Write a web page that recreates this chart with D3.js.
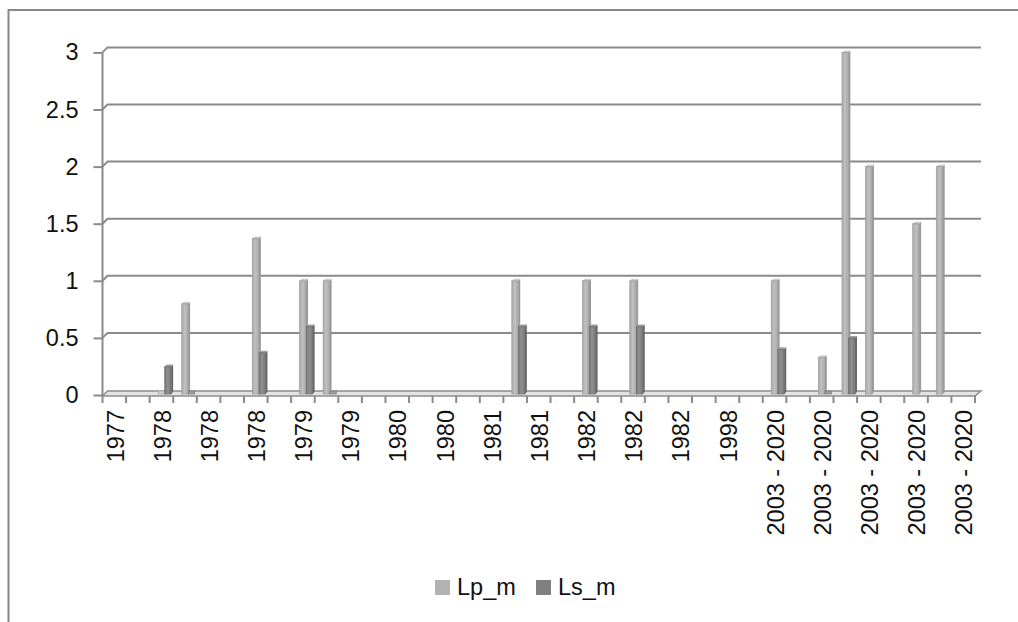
<!DOCTYPE html>
<html><head><meta charset="utf-8">
<script src="https://cdn.jsdelivr.net/npm/d3@7"></script>
<style>
body{margin:0;background:#fff}
svg{display:block}
text{font-family:"Liberation Sans",Arial,sans-serif;fill:#111}
</style></head>
<body><svg id="c" width="1018" height="622"></svg>
<script>
// ---- data ----
const categories = ["1977","1977","1978","1978","1978","1978","1978","1979","1979","1979",
  "1979","1980","1980","1980","1980","1981","1981","1981","1981","1982",
  "1982","1982","1982","1982","1982","1998","1998","2003 - 2020","2003 - 2020","2003 - 2020",
  "2003 - 2020","2003 - 2020","2003 - 2020","2003 - 2020","2003 - 2020","2003 - 2020","2003 - 2020"];
const seriesNames = ["Lp_m","Ls_m"];
const lpValues = [null,null,0,0.8,null,null,1.37,null,1,1,
  null,null,null,null,null,null,null,1,null,null,
  1,null,1,null,null,null,null,null,1,null,
  0.33,3,2,null,1.5,2,null];
const lsValues = [null,null,0.25,0,null,null,0.37,null,0.6,0,
  null,null,null,null,null,null,null,0.6,null,null,
  0.6,null,0.6,null,null,null,null,null,0.4,null,
  0,0.5,null,null,null,null,null];
const yTicks = [0,0.5,1,1.5,2,2.5,3];

// ---- layout ----
const svg = d3.select("#c");
const W = 1018, H = 622;
const left = 102.5, right = 975, y0px = 395, ytop = 52.4;
const depth = 5;
const FS = 23.5;
const colors = {Lp_m:{front:"#b2b2b2", side:"#999999", top:"#cfcfcf", stroke:"#9d9d9d"},
                Ls_m:{front:"#808080", side:"#666666", top:"#a0a0a0", stroke:"#6e6e6e"}};

svg.append("rect").attr("width",W).attr("height",H).attr("fill","#fff");
// chart border
svg.append("rect").attr("x",8.5).attr("y",10).attr("width",1020).attr("height",630)
  .attr("fill","none").attr("stroke","#878787").attr("stroke-width",2);

const x = d3.scaleBand().domain(d3.range(categories.length)).range([left,right]).padding(0);
const y = d3.scaleLinear().domain([0,3]).range([y0px,ytop]);

// floor
svg.append("polygon")
  .attr("points",[[left,y0px+1],[right,y0px+1],[right+depth+1,y0px-4],[left+depth,y0px-4]].map(p=>p.join(",")).join(" "))
  .attr("fill","#e3e3e3").attr("stroke","#8c8c8c").attr("stroke-width",1.5);

// gridlines on back wall with left kink
const grid = svg.append("g");
yTicks.forEach(v=>{
  if(v===0) return;
  const yy = y(v);
  grid.append("path")
    .attr("d",`M${left},${yy}L${left+depth},${yy-5}L${right+depth+1},${yy-5}`)
    .attr("fill","none").attr("stroke","#8a8a8a").attr("stroke-width",2);
});
// side wall front edge (y axis)
svg.append("line").attr("x1",left).attr("x2",left).attr("y1",ytop).attr("y2",y0px+1)
  .attr("stroke","#8a8a8a").attr("stroke-width",2);

// y axis ticks & labels
const yAxis = d3.axisLeft(y).tickValues(yTicks).tickSize(9).tickPadding(15)
  .tickFormat(d=>String(d));
const gy = svg.append("g").attr("transform",`translate(${left},0)`).call(yAxis);
gy.select(".domain").remove();
gy.selectAll(".tick line").attr("stroke","#8a8a8a").attr("stroke-width",2);
gy.selectAll(".tick text").attr("font-size",FS).attr("fill","#111")
  .style("font-family",'"Liberation Sans",Arial,sans-serif');

// x axis ticks at category boundaries
const xt = svg.append("g");
d3.range(categories.length+1).forEach(i=>{
  const xx = left + i*x.bandwidth();
  xt.append("line").attr("x1",xx).attr("x2",xx).attr("y1",y0px+1).attr("y2",y0px+8)
    .attr("stroke","#8a8a8a").attr("stroke-width",2);
});
// x labels every other category
const labelIdx = d3.range(0,categories.length,2);
const gx = svg.append("g");
labelIdx.forEach(i=>{
  const cx = x(i)+x.bandwidth()/2;
  gx.append("text").attr("transform",`translate(${cx+1},410) rotate(-90)`)
    .attr("text-anchor","end").attr("dy","0.35em").attr("font-size",FS)
    .text(categories[i]);
});

// bars
const bw = x.bandwidth();
const barW = bw*0.27;
const sd = 2; // bar depth
function drawBar(g, i, v, off, c){
  if(v===null) return;
  const bx = x(i)+bw*off;
  const base = y0px-1;
  let top = y(v);
  if(v===0){
    g.append("rect").attr("x",bx).attr("y",base-3).attr("width",barW).attr("height",3)
      .attr("fill",c.top).attr("stroke",c.stroke).attr("stroke-width",0.6);
    return;
  }
  g.append("polygon").attr("points",
    [[bx+barW,top],[bx+barW+sd,top-sd],[bx+barW+sd,base-sd],[bx+barW,base]].map(p=>p.join(",")).join(" "))
    .attr("fill",c.side);
  g.append("polygon").attr("points",
    [[bx,top],[bx+sd,top-sd],[bx+barW+sd,top-sd],[bx+barW,top]].map(p=>p.join(",")).join(" "))
    .attr("fill",c.top);
  g.append("rect").attr("x",bx).attr("y",top).attr("width",barW).attr("height",base-top)
    .attr("fill",c.front).attr("stroke",c.stroke).attr("stroke-width",0.8);
  g.append("rect").attr("x",bx+barW*0.3).attr("y",top+1).attr("width",barW*0.35).attr("height",base-top-1)
    .attr("fill",c.top).attr("opacity",0.45);
}
const bars = svg.append("g");
categories.forEach((c,i)=>{
  drawBar(bars,i,lpValues[i],0.36,colors.Lp_m);
  drawBar(bars,i,lsValues[i],0.64,colors.Ls_m);
});

// legend
const legend = svg.append("g");
const legItems = [{name:seriesNames[0],x:435},{name:seriesNames[1],x:536}];
legItems.forEach((d,k)=>{
  legend.append("rect").attr("x",d.x).attr("y",580).attr("width",15).attr("height",15)
    .attr("fill",k===0?colors.Lp_m.front:colors.Ls_m.front);
  legend.append("text").attr("x",d.x+22).attr("y",595).attr("font-size",FS).text(d.name);
});
</script>
</body></html>
